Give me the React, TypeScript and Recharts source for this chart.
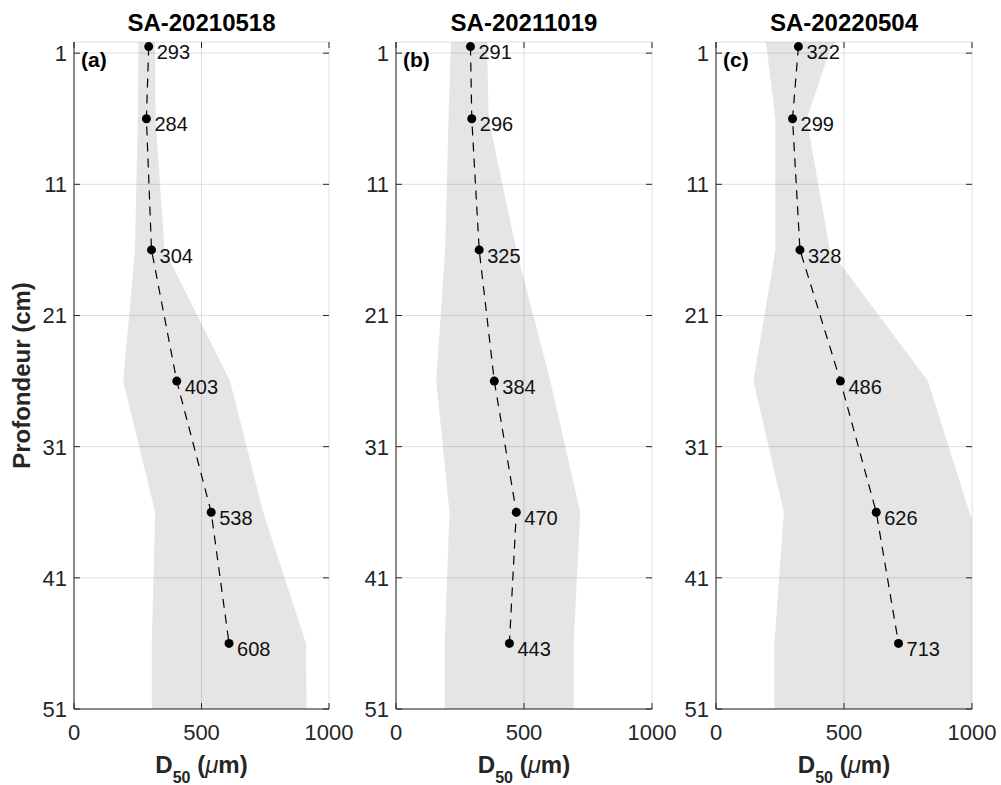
import React from 'react';
import { ComposedChart, Area, Line, XAxis, YAxis, CartesianGrid } from 'recharts';

// ---- data ----
const titles = ['SA-20210518', 'SA-20211019', 'SA-20220504'];
const tags = ['(a)', '(b)', '(c)'];
const pointDepths = [0.5, 6, 16, 26, 36, 46];
const d50A = [293, 284, 304, 403, 538, 608];
const d50B = [291, 296, 325, 384, 470, 443];
const d50C = [322, 299, 328, 486, 626, 713];
const bandDepths = [0, 0.5, 6, 16, 26, 36, 46, 51];
const lowA = [253, 253, 250, 239, 193, 318, 305, 305];
const highA = [317, 318, 320, 355, 612, 742, 910, 912];
const lowB = [216, 214, 205, 192, 157, 209, 190, 190];
const highB = [355, 356, 362, 470, 603, 720, 694, 694];
const lowC = [190, 197, 232, 232, 146, 265, 228, 228];
const highC = [479, 450, 354, 445, 828, 990, 1200, 1200];
const depthTicks = [1, 11, 21, 31, 41, 51];
const d50Ticks = [0, 500, 1000];
const depthDomain: [number, number] = [0.15, 51];
const d50Domain: [number, number] = [0, 1000];

// ---- layout ----
const FONT = '"Liberation Sans", Arial, Helvetica, sans-serif';
const H = 785;
const PLOT_TOP = 42;
const PLOT_BOTTOM = 709;
const AXIS_COLOR = '#262626';
const layouts = [
  { left: 0, width: 360, plotLeft: 74, plotRight: 329 },
  { left: 320, width: 360, plotLeft: 396, plotRight: 652 },
  { left: 640, width: 361, plotLeft: 716, plotRight: 972 },
];

function Panel({ idx, d50, low, high }: { idx: number; d50: number[]; low: number[]; high: number[] }) {
  const lay = layouts[idx];
  const pl = lay.plotLeft - lay.left;
  const pr = lay.plotRight - lay.left;
  const points = pointDepths.map((depth, i) => ({ depth, d50: d50[i] }));
  const band = bandDepths.map((depth, i) => ({ depth, range: [low[i], high[i]] }));

  const yTick = (p: any) => (
    <g>
      <line x1={pl} x2={pl + 6} y1={p.y} y2={p.y} stroke={AXIS_COLOR} strokeWidth={1} />
      <line x1={pr - 6} x2={pr} y1={p.y} y2={p.y} stroke={AXIS_COLOR} strokeWidth={1} />
      <text x={pl - 7} y={p.y} dy="0.36em" textAnchor="end" fontSize={22} fill={AXIS_COLOR} fontFamily={FONT}>
        {p.payload.value}
      </text>
    </g>
  );
  const xTick = (p: any) => (
    <g>
      <line x1={p.x} x2={p.x} y1={PLOT_BOTTOM} y2={PLOT_BOTTOM - 6} stroke={AXIS_COLOR} strokeWidth={1} />
      <line x1={p.x} x2={p.x} y1={PLOT_TOP} y2={PLOT_TOP + 6} stroke={AXIS_COLOR} strokeWidth={1} />
      <text x={p.x} y={PLOT_BOTTOM + 31} textAnchor="middle" fontSize={22} fill={AXIS_COLOR} fontFamily={FONT}>
        {p.payload.value}
      </text>
    </g>
  );
  const renderDot = (p: any) => {
    if (p.cx == null || p.cy == null) return <g key={`e${p.index}`} />;
    return (
      <g key={`d${p.index}`}>
        <circle cx={p.cx} cy={p.cy} r={4.5} fill="#000" />
        <text x={p.cx + 8} y={p.cy + 5.5} dy="0.36em" fontSize={20} fill="#111" fontFamily={FONT}>
          {p.payload.d50}
        </text>
      </g>
    );
  };

  return (
    <div style={{ position: 'absolute', left: lay.left, top: 0, width: lay.width, height: H }}>
      <ComposedChart
        layout="vertical"
        width={lay.width}
        height={H}
        margin={{ top: PLOT_TOP, bottom: 0, left: pl - 60, right: lay.width - pr }}
      >
        <CartesianGrid stroke="#dfdfdf" strokeWidth={1} />
        <XAxis
          type="number"
          domain={d50Domain}
          ticks={d50Ticks}
          allowDataOverflow
          height={H - PLOT_BOTTOM}
          tick={xTick}
          tickLine={false}
          axisLine={{ stroke: AXIS_COLOR, strokeWidth: 1 }}
        />
        <XAxis
          xAxisId="top"
          orientation="top"
          type="number"
          domain={d50Domain}
          height={0}
          tick={false}
          tickLine={false}
          axisLine={{ stroke: AXIS_COLOR, strokeWidth: 1 }}
        />
        <YAxis
          type="number"
          dataKey="depth"
          domain={depthDomain}
          ticks={depthTicks}
          allowDataOverflow
          width={60}
          tick={yTick}
          tickLine={false}
          axisLine={{ stroke: AXIS_COLOR, strokeWidth: 1 }}
        />
        <YAxis
          yAxisId="right"
          orientation="right"
          type="number"
          domain={depthDomain}
          width={0}
          tick={false}
          tickLine={false}
          axisLine={{ stroke: AXIS_COLOR, strokeWidth: 1 }}
        />
        <Area
          data={band}
          dataKey="range"
          type="linear"
          stroke="none"
          fill="#000"
          fillOpacity={0.1}
          isAnimationActive={false}
          dot={false}
          activeDot={false}
        />
        <Line
          data={points}
          dataKey="d50"
          type="linear"
          stroke="#000"
          strokeWidth={1.2}
          strokeDasharray="9 7"
          dot={renderDot}
          activeDot={false}
          isAnimationActive={false}
        />
      </ComposedChart>
    </div>
  );
}

function Overlay() {
  return (
    <svg
      width={1001}
      height={H}
      style={{ position: 'absolute', left: 0, top: 0, pointerEvents: 'none' }}
    >
      {layouts.map((lay, i) => {
        const cx = (lay.plotLeft + lay.plotRight) / 2;
        return (
          <g key={i}>
            <text x={cx} y={31} textAnchor="middle" fontSize={24} fontWeight="bold" fill="#000" fontFamily={FONT}>
              {titles[i]}
            </text>
            <text x={lay.plotLeft + 7} y={67} fontSize={21} fontWeight="bold" fill="#000" fontFamily={FONT}>
              {tags[i]}
            </text>
            <text x={cx} y={773} textAnchor="middle" fontSize={24} fontWeight="bold" fill={AXIS_COLOR} fontFamily={FONT}>
              D<tspan fontSize={16} dy={10}>50</tspan>
              <tspan dy={-10}> (</tspan>
              <tspan fontStyle="italic" fontWeight="normal">μ</tspan>
              <tspan>m)</tspan>
            </text>
          </g>
        );
      })}
      <text
        transform={`translate(30, ${(PLOT_TOP + PLOT_BOTTOM) / 2}) rotate(-90)`}
        textAnchor="middle"
        fontSize={24}
        fontWeight="bold"
        fill={AXIS_COLOR}
        fontFamily={FONT}
      >
        Profondeur (cm)
      </text>
    </svg>
  );
}

export default function App() {
  return (
    <div style={{ position: 'absolute', left: 0, top: 0, width: 1001, height: H, background: '#fff', overflow: 'hidden' }}>
      <Panel idx={0} d50={d50A} low={lowA} high={highA} />
      <Panel idx={1} d50={d50B} low={lowB} high={highB} />
      <Panel idx={2} d50={d50C} low={lowC} high={highC} />
      <Overlay />
    </div>
  );
}
